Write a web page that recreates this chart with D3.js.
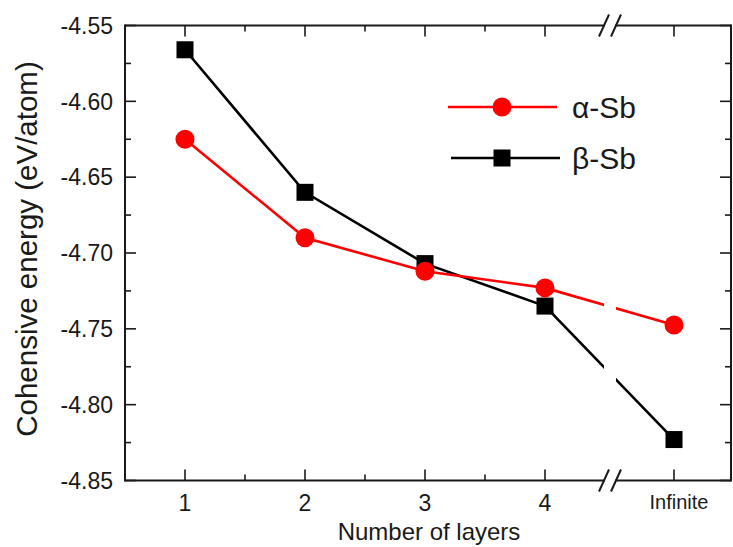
<!DOCTYPE html>
<html>
<head>
<meta charset="utf-8">
<script src="https://cdn.jsdelivr.net/npm/d3@7"></script>
<style>
  body { margin: 0; background: #fff; }
  svg text { font-family: "Liberation Sans", Arial, sans-serif; fill: #1a1a1a; }
</style>
</head>
<body>
<svg id="chart" width="733" height="547"></svg>
<script>
// Chart data
const layers = ["1", "2", "3", "4", "Infinite"];
const layerIndex = [1, 2, 3, 4, 5];
const alphaSb = [-4.625, -4.690, -4.712, -4.723, -4.7475];
const betaSb = [-4.566, -4.660, -4.707, -4.735, -4.823];
const yTicks = [-4.55, -4.60, -4.65, -4.70, -4.75, -4.80, -4.85];
const yMinor = [-4.575, -4.625, -4.675, -4.725, -4.775, -4.825];
const xMinor = [1.5, 2.5, 3.5];
const breakAt = 4.54;

const svg = d3.select("#chart");
const plotL = 125, plotR = 731, plotT = 25.5, plotB = 480.5;

// x is piecewise: 1..4 evenly spaced, then a break, then "Infinite"
const x = d3.scaleLinear()
    .domain([0.5, 4, breakAt, 5, 5.445])
    .range([plotL, 545, 610, 674, plotR]);

const y = d3.scaleLinear()
    .domain([-4.85, -4.55])
    .range([plotB, plotT]);

const gapL = x(breakAt) - 6, gapR = x(breakAt) + 6;

// clip the lines so they break at the axis break
const defs = svg.append("defs");
const clip = defs.append("clipPath").attr("id", "breakClip");
clip.append("rect").attr("x", plotL).attr("y", 0).attr("width", gapL - plotL).attr("height", 547);
clip.append("rect").attr("x", gapR).attr("y", 0).attr("width", plotR - gapR).attr("height", 547);

const series = [
    { name: "β-Sb", values: betaSb, color: "#000", shape: "square" },
    { name: "α-Sb", values: alphaSb, color: "#ff0000", shape: "circle" }
];

const line = d3.line()
    .x((d, i) => x(layerIndex[i]))
    .y(d => y(d));

series.forEach(s => {
    svg.append("path")
        .attr("d", line(s.values))
        .attr("fill", "none")
        .attr("stroke", s.color)
        .attr("stroke-width", 2.6)
        .attr("clip-path", "url(#breakClip)");
});

function drawMarker(g, shape, cx, cy, color) {
    if (shape === "circle") {
        g.append("circle").attr("cx", cx).attr("cy", cy).attr("r", 9.5).attr("fill", color);
    } else {
        g.append("rect").attr("x", cx - 8.5).attr("y", cy - 8.5)
            .attr("width", 17).attr("height", 17).attr("fill", color);
    }
}

series.forEach(s => {
    const g = svg.append("g");
    s.values.forEach((v, i) => drawMarker(g, s.shape, x(layerIndex[i]), y(v), s.color));
});

// frame
const axisColor = "#1a1a1a";
const frame = svg.append("g").attr("stroke", axisColor).attr("stroke-width", 2).attr("fill", "none");
[plotT, plotB].forEach(yy => {
    frame.append("line").attr("x1", plotL).attr("x2", gapL + 1).attr("y1", yy).attr("y2", yy);
    frame.append("line").attr("x1", gapR - 1).attr("x2", plotR).attr("y1", yy).attr("y2", yy);
    // break slashes
    [gapL, gapR].forEach(cx => {
        frame.append("line")
            .attr("x1", cx - 5).attr("y1", yy + 11)
            .attr("x2", cx + 5).attr("y2", yy - 11);
    });
});
frame.append("line").attr("x1", plotL).attr("x2", plotL).attr("y1", plotT - 1).attr("y2", plotB + 1);
frame.append("line").attr("x1", plotR).attr("x2", plotR).attr("y1", plotT - 1).attr("y2", plotB + 1);

// ticks (inward, mirrored on all sides)
const ticks = svg.append("g").attr("stroke", axisColor).attr("stroke-width", 1.6);
layerIndex.forEach(v => {
    ticks.append("line").attr("x1", x(v)).attr("x2", x(v)).attr("y1", plotB).attr("y2", plotB - 11);
    ticks.append("line").attr("x1", x(v)).attr("x2", x(v)).attr("y1", plotT).attr("y2", plotT + 11);
});
xMinor.forEach(v => {
    ticks.append("line").attr("x1", x(v)).attr("x2", x(v)).attr("y1", plotB).attr("y2", plotB - 6);
    ticks.append("line").attr("x1", x(v)).attr("x2", x(v)).attr("y1", plotT).attr("y2", plotT + 6);
});
yTicks.forEach(v => {
    ticks.append("line").attr("x1", plotL).attr("x2", plotL + 11).attr("y1", y(v)).attr("y2", y(v));
    ticks.append("line").attr("x1", plotR).attr("x2", plotR - 11).attr("y1", y(v)).attr("y2", y(v));
});
yMinor.forEach(v => {
    ticks.append("line").attr("x1", plotL).attr("x2", plotL + 6).attr("y1", y(v)).attr("y2", y(v));
    ticks.append("line").attr("x1", plotR).attr("x2", plotR - 6).attr("y1", y(v)).attr("y2", y(v));
});

// tick labels
svg.selectAll(".ylab").data(yTicks).enter().append("text")
    .attr("class", "ylab")
    .attr("x", plotL - 12)
    .attr("y", d => y(d))
    .attr("dy", "0.36em")
    .attr("text-anchor", "end")
    .attr("font-size", "23px")
    .text(d => d.toFixed(2));

svg.selectAll(".xlab").data(layers).enter().append("text")
    .attr("class", "xlab")
    .attr("x", (d, i) => x(layerIndex[i]) + (d === "Infinite" ? 5 : 0))
    .attr("y", d => d === "Infinite" ? 509 : 511)
    .attr("text-anchor", "middle")
    .attr("font-size", d => d === "Infinite" ? "20px" : "23px")
    .text(d => d);

// axis titles
svg.append("text")
    .attr("x", 429)
    .attr("y", 540)
    .attr("text-anchor", "middle")
    .attr("font-size", "24px")
    .text("Number of layers");

svg.append("text")
    .attr("transform", "translate(37,249) rotate(-90)")
    .attr("text-anchor", "middle")
    .attr("font-size", "29.5px")
    .text("Cohensive energy (eV/atom)");

// legend
const legend = svg.append("g");
const legendRows = [
    { s: series[1], y: 107, x1: 448, x2: 557 },
    { s: series[0], y: 158, x1: 451, x2: 560 }
];
legendRows.forEach(r => {
    legend.append("line")
        .attr("x1", r.x1).attr("x2", r.x2).attr("y1", r.y).attr("y2", r.y)
        .attr("stroke", r.s.color).attr("stroke-width", 2.6);
    drawMarker(legend, r.s.shape, 502, r.y, r.s.color);
    legend.append("text")
        .attr("x", 572)
        .attr("y", r.y)
        .attr("dy", "0.36em")
        .attr("font-size", "30px")
        .text(r.s.name);
});
</script>
</body>
</html>
